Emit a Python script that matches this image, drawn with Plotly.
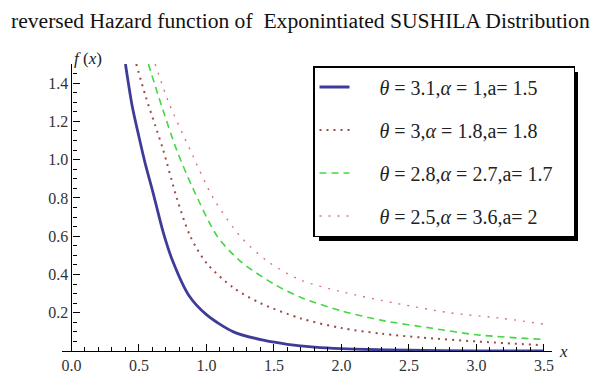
import plotly.graph_objects as go

# ---- data ----
x_c1 = [0.40, 0.45, 0.50, 0.55, 0.60, 0.68, 0.75, 0.87, 1.00, 1.20, 1.43, 1.60, 1.80, 2.00, 2.50, 3.00, 3.50]
y_c1 = [1.50, 1.28, 1.12, 0.97, 0.84, 0.62, 0.47, 0.29, 0.19, 0.10, 0.055, 0.035, 0.020, 0.012, 0.004, 0.001, 0.0]

x_c2 = [0.48, 0.55, 0.62, 0.68, 0.78, 0.88, 1.00, 1.20, 1.40, 1.70, 2.00, 2.30, 2.60, 3.00, 3.50]
y_c2 = [1.50, 1.33, 1.18, 1.05, 0.80, 0.60, 0.46, 0.33, 0.25, 0.17, 0.12, 0.09, 0.07, 0.05, 0.03]

x_c3 = [0.57, 0.65, 0.78, 0.90, 1.08, 1.25, 1.50, 1.70, 2.00, 2.30, 2.66, 3.00, 3.50]
y_c3 = [1.50, 1.32, 1.05, 0.85, 0.60, 0.47, 0.35, 0.28, 0.21, 0.16, 0.12, 0.085, 0.06]

x_c4 = [0.62, 0.72, 0.88, 1.05, 1.25, 1.45, 1.70, 2.00, 2.40, 2.80, 3.20, 3.50]
y_c4 = [1.50, 1.30, 1.05, 0.80, 0.60, 0.47, 0.37, 0.31, 0.25, 0.20, 0.17, 0.14]

names = [
    "<i>θ</i> = 3.1,<i>α</i> = 1,a= 1.5",
    "<i>θ</i> = 3,<i>α</i> = 1.8,a= 1.8",
    "<i>θ</i> = 2.8,<i>α</i> = 2.7,a= 1.7",
    "<i>θ</i> = 2.5,<i>α</i> = 3.6,a= 2",
]

x_ticks = [0.0, 0.5, 1.0, 1.5, 2.0, 2.5, 3.0, 3.5]
x_ticklabels = ["0.0", "0.5", "1.0", "1.5", "2.0", "2.5", "3.0", "3.5"]
y_ticks = [0.2, 0.4, 0.6, 0.8, 1.0, 1.2, 1.4]
y_ticklabels = ["0.2", "0.4", "0.6", "0.8", "1.0", "1.2", "1.4"]

title_text = "reversed Hazard function of  Exponintiated SUSHILA Distribution"

# ---- styling ----
SERIF = "Liberation Serif, Times New Roman, serif"
colors = ["#3d3d99", "#9c4a48", "#45d645", "#dd7777"]
dashes = ["solid", "2px,5px", "7px,5px", "2px,7px"]
widths = [2.8, 2.0, 1.6, 1.4]
NB = "\u00a0"

xs = [x_c1, x_c2, x_c3, x_c4]
ys = [y_c1, y_c2, y_c3, y_c4]

fig = go.Figure()
for i in range(4):
    fig.add_trace(go.Scatter(
        x=xs[i], y=ys[i], mode="lines", name=NB * 5 + names[i] + NB * 3,
        line=dict(color=colors[i], width=widths[i], dash=dashes[i], shape="spline", smoothing=0.8),
        legendgroup=f"g{i}",
    ))

x_min, x_max = -0.07, 3.56
W, H = 592, 374
ml, mr, mt, mb = 62, 40, 64, 23
plot_w = W - ml - mr
plot_h = H - mt - mb

tickfont = dict(family=SERIF, size=16, color="#333")
fig.update_layout(
    width=W, height=H,
    margin=dict(l=ml, r=mr, t=mt, b=mb, autoexpand=False),
    paper_bgcolor="white", plot_bgcolor="white",
    font=dict(family=SERIF, size=16, color="#222"),
    title=dict(text=title_text, x=11 / W, xref="container", xanchor="left",
               y=1 - 20 / H, yref="container", yanchor="middle",
               font=dict(family=SERIF, size=21.6, color="#111")),
    xaxis=dict(range=[x_min, x_max], tickvals=x_ticks, ticktext=x_ticklabels,
               showgrid=False, zeroline=False, showline=True, linecolor="black", linewidth=1.2,
               ticks="inside", ticklen=7, tickwidth=1, tickcolor="black",
               minor=dict(ticks="inside", dtick=0.1, ticklen=4, tickcolor="black", showgrid=False),
               tickfont=tickfont, automargin=False, fixedrange=True),
    yaxis=dict(range=[0, 1.5], tickvals=y_ticks, ticktext=y_ticklabels,
               anchor="free", position=(0 - x_min) / (x_max - x_min),
               showgrid=False, zeroline=False, showline=True, linecolor="black", linewidth=1.2,
               ticks="inside", ticklen=7, tickwidth=1, tickcolor="black",
               minor=dict(ticks="inside", dtick=0.05, ticklen=4, tickcolor="black", showgrid=False),
               tickfont=tickfont, automargin=False, fixedrange=True),
    showlegend=True,
    legend=dict(x=(313 - ml) / plot_w, y=(H - mb - 66) / plot_h, xanchor="left", yanchor="top",
                bgcolor="white", bordercolor="black", borderwidth=1.5,
                font=dict(family=SERIF, size=20, color="#222"),
                traceorder="grouped", tracegroupgap=14, itemwidth=30),
)

# legend drop shadow
fig.add_shape(type="rect", xref="paper", yref="paper", layer="below",
              x0=(319 - ml) / plot_w, x1=(578 - ml) / plot_w,
              y0=(H - mb - 241) / plot_h, y1=(H - mb - 72) / plot_h,
              fillcolor="black", line=dict(width=0))

fig.add_annotation(text="<i>f</i> (<i>x</i>)", xref="paper", yref="paper",
                   x=(72 - ml) / plot_w, y=(H - mb - 47) / plot_h,
                   showarrow=False, font=dict(family=SERIF, size=17, color="#222"))
fig.add_annotation(text="<i>x</i>", xref="paper", yref="paper",
                   x=(570 - ml) / plot_w, y=0, yanchor="middle",
                   showarrow=False, font=dict(family=SERIF, size=17, color="#222"))

fig.write_html("out.html", config={"displayModeBar": False},
               post_script="document.body.style.margin='0';document.body.style.overflow='hidden';")
